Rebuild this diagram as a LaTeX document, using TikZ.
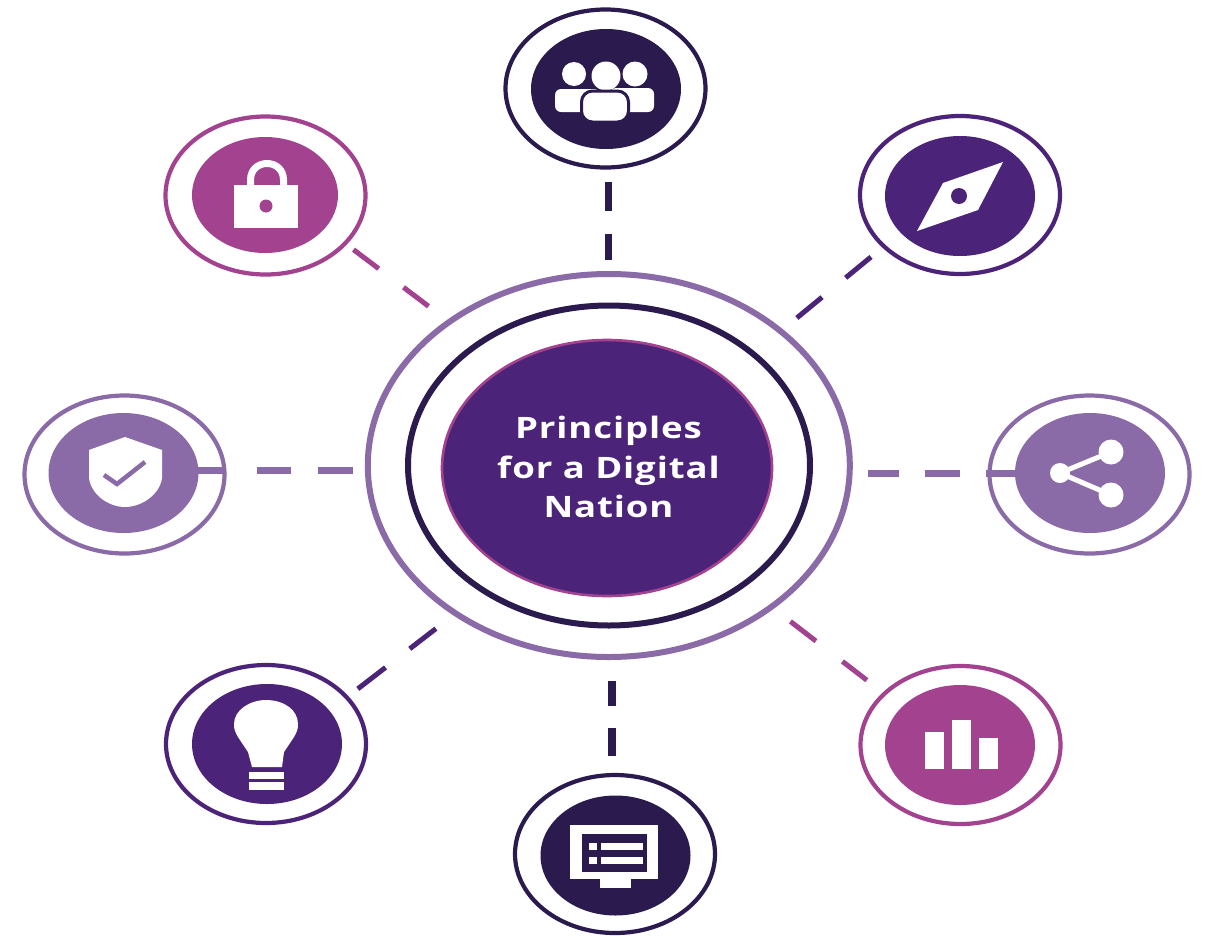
\documentclass[tikz,border=0pt]{standalone}
\usepackage{fontspec}
\setmainfont{Open Sans}
\newfontfamily\hubfont[FakeStretch=1.24,LetterSpace=3]{Open Sans}
\usetikzlibrary{shapes.geometric}
\definecolor{navy}{HTML}{2A1A4E}
\definecolor{deep}{HTML}{4B2479}
\definecolor{lilac}{HTML}{8A6BA8}
\definecolor{magen}{HTML}{A3428F}
\tikzset{
  ringnode/.style={ellipse,draw=#1,line width=4.2pt,fill=white,inner sep=0pt,outer sep=0pt,minimum width=200pt,minimum height=158pt},
  disknode/.style={ellipse,fill=#1,draw=none,inner sep=0pt,outer sep=0pt,minimum width=150pt,minimum height=120pt},
  hubring/.style={ellipse,draw=#1,line width=6pt,inner sep=0pt,outer sep=0pt},
  conn/.style={draw=#1,line width=5pt},
  connwide/.style={draw=#1,line width=7pt},
  glyph/.style={fill=white,draw=none}
}
\begin{document}
\begin{tikzpicture}[x=1pt,y=-1pt]
\useasboundingbox (0,0) rectangle (1205,935);
\fill[white] (0,0) rectangle (1205,935);

% hub
\node[hubring=lilac,minimum width=482pt,minimum height=383pt] (hubouter) at (608.8,465.5) {};
\node[hubring=navy,minimum width=402pt,minimum height=320pt] (hubmid) at (609,465.5) {};
\node[ellipse,fill=deep,draw=magen,line width=2.6pt,inner sep=0pt,outer sep=0pt,minimum width=330pt,minimum height=256pt,
      text=white,align=center,font=\hubfont\fontsize{29.5}{39.5}\selectfont\bfseries] (hubcore) at (607,468)
      {\raisebox{1.5pt}{\kern3pt Principles}\\\raisebox{1.5pt}{\kern3pt for a Digital}\\\raisebox{1.5pt}{\kern3pt Nation}};

% satellites
\node[ringnode=navy]  (topring)   at (605.5,88.5) {};
\node[disknode=navy]  (topdisk)   at (606,89) {};
\node[ringnode=navy]  (botring)   at (615,854) {};
\node[disknode=navy]  (botdisk)   at (615.5,855.5) {};
\node[ringnode=lilac] (leftring)  at (124.5,474.5) {};
\node[disknode=lilac] (leftdisk)  at (123.5,473) {};
\node[ringnode=lilac] (rightring) at (1089.5,474.5) {};
\node[disknode=lilac] (rightdisk) at (1090,473) {};
\node[ringnode=deep]  (bulbring)  at (266,744) {};
\node[disknode=deep]  (bulbdisk)  at (267,744) {};
\node[ringnode=deep]  (compring)  at (960,195) {};
\node[disknode=deep]  (compdisk)  at (960,196) {};
\node[ringnode=magen] (lockring)  at (265.5,195.5) {};
\node[disknode=magen,minimum width=146pt,minimum height=116pt] (lockdisk) at (265,195) {};
\node[ringnode=magen] (barsring)  at (960.5,745) {};
\node[disknode=magen] (barsdisk)  at (960,745) {};

% connectors
\draw[connwide=navy,dash pattern=on 29pt off 23pt on 26pt off 60pt,shorten <=14pt]
  (topring.south -| hubouter.north) -- (hubouter.north);
\draw[connwide=navy,line width=8pt,dash pattern=on 25pt off 22pt on 28pt off 60pt,shorten <=24.5pt]
  (hubouter.-89) -- (hubouter.-89 |- botring.north);
\draw[connwide=lilac,dash pattern=on 27pt off 32pt on 34pt off 27pt on 35pt off 60pt]
  (leftdisk.2) -- (leftdisk.2 -| hubouter.west);
\draw[connwide=lilac,dash pattern=on 31pt off 26pt on 35pt off 26pt on 29pt off 60pt,shorten <=18pt]
  (hubouter.east |- rightdisk.west) -- (rightdisk.west);
\draw[conn=magen,dash pattern=on 31.6pt off 31pt on 31.4pt off 60pt,shorten <=10.5pt,shorten >=14pt]
  (lockring.-31.4) -- (hubouter.138.2);
\draw[conn=deep,dash pattern=on 32.6pt off 30.6pt on 32.8pt off 60pt,shorten <=21pt,shorten >=7pt]
  (hubouter.38.4) -- (compring.214.6);
\draw[conn=magen,dash pattern=on 32.2pt off 33.4pt on 30.8pt off 60pt,shorten <=24pt,shorten >=12pt]
  (hubouter.-41.3) -- (barsring.146);
\draw[conn=deep,dash pattern=on 33pt off 30.6pt on 35pt off 60pt,shorten <=25pt,shorten >=5pt]
  (hubouter.-136) -- (bulbring.30.9);

% people icon
\fill[glyph] (574,74) circle (12);
\fill[glyph] (606,76) circle (14.5);
\fill[glyph] (635,74) circle (12.5);
\fill[glyph,rounded corners=6pt] (555,112) rectangle (600,89);
\fill[glyph,rounded corners=6pt] (610,112) rectangle (654,88);
\filldraw[fill=white,draw=navy,line width=3pt,rounded corners=11pt] (581.5,122) -- (581.5,91) -- (628.5,91) -- (628.5,122) -- cycle;

% monitor icon
\fill[glyph] (570,825) rectangle (658,879);
\fill[glyph] (600,879) rectangle (631,888);
\fill[navy] (582,834) rectangle (647,872);
\fill[glyph] (589,843) rectangle (597,850);
\fill[glyph] (601,843) rectangle (643,850);
\fill[glyph] (589,857) rectangle (597,864);
\fill[glyph] (601,857) rectangle (643,864);

% shield icon
\fill[glyph] (125,437) -- (89,450) -- (89,478) .. controls (91,494) and (108,507) .. (125,507)
  .. controls (142,507) and (160,494) .. (162,478) -- (162,450) -- cycle;
\draw[lilac,line width=4.5pt] (104,475) -- (117,484) -- (145,462);

% share icon
\draw[white,line width=5pt] (1111,452) -- (1060,473) -- (1111,495);
\fill[glyph] (1060,473) circle (10);
\fill[glyph] (1111,452) circle (12.5);
\fill[glyph] (1111,495) circle (12.5);

% bulb icon
\fill[glyph] (252,767) -- (248,752) -- (238,737) .. controls (235,732) and (234,729) .. (234,724)
  .. controls (234,710) and (250,700) .. (266,700) .. controls (284,700) and (298,710) .. (298,724)
  .. controls (298,729) and (297,732) .. (294,737) -- (284,752) -- (282,767) -- cycle;
\fill[glyph] (249,772) rectangle (284,779);
\fill[glyph] (249,782) rectangle (284,790);

% compass icon
\fill[glyph] (1003,162) -- (943,183) -- (917,231) -- (978,210) -- cycle;
\fill[deep] (959,196) circle (8);

% lock icon
\draw[white,line width=7pt] (250.5,188) -- (250.5,180) .. controls (250.5,158) and (283.5,158) .. (283.5,180) -- (283.5,188);
\fill[glyph] (234,185) rectangle (298,228);
\fill[magen] (266,206) circle (6.5);

% bars icon
\fill[glyph] (925,732) rectangle (944,769);
\fill[glyph] (952,720) rectangle (971,769);
\fill[glyph] (979,738) rectangle (998,769);
\end{tikzpicture}
\end{document}
